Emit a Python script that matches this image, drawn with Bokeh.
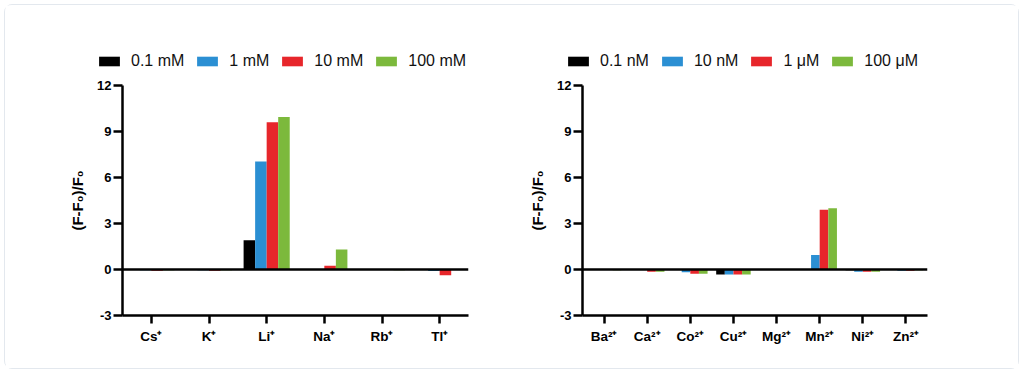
from bokeh.plotting import figure
from bokeh.models import FactorRange, Range1d, Span, Legend, LegendItem, ColumnDataSource, FixedTicker
from bokeh.transform import dodge
from bokeh.layouts import row, column
from bokeh.embed import file_html
from bokeh.resources import INLINE

# ---- data ----
mono_cats = ["Cs⁺", "K⁺", "Li⁺", "Na⁺", "Rb⁺", "Tl⁺"]
mono_labels = ["0.1 mM", "1 mM", "10 mM", "100 mM"]
mono_01 = [0.0, 0.0, 1.9, 0.0, 0.0, 0.0]
mono_1 = [-0.05, -0.05, 7.05, 0.0, 0.0, -0.1]
mono_10 = [-0.08, -0.08, 9.6, 0.25, 0.0, -0.38]
mono_100 = [-0.05, -0.05, 9.95, 1.3, -0.05, 0.0]

di_cats = ["Ba²⁺", "Ca²⁺", "Co²⁺", "Cu²⁺", "Mg²⁺", "Mn²⁺", "Ni²⁺", "Zn²⁺"]
di_labels = ["0.1 nM", "10 nM", "1 μM", "100 μM"]
di_01 = [0.0, 0.0, 0.0, -0.33, 0.0, 0.0, -0.05, 0.0]
di_10n = [0.0, -0.03, -0.18, -0.32, 0.0, 0.95, -0.15, -0.08]
di_1u = [0.0, -0.15, -0.28, -0.32, 0.0, 3.9, -0.15, -0.08]
di_100u = [-0.05, -0.15, -0.28, -0.32, 0.0, 4.0, -0.15, -0.05]

y_ticks = [-3, 0, 3, 6, 9, 12]
y_tick_labels = {-3: "-3", 0: "0", 3: "3", 6: "6", 9: "9", 12: "12"}
colors = ["#000000", "#2b8fd3", "#e7262b", "#7cb93c"]
offsets = [-0.3, -0.1, 0.1, 0.3]

FONT = "Liberation Sans"
LEG_H = 70


def make_legend(labels, width, leg_x):
    p = figure(width=width, height=LEG_H, min_border=0, frame_align=False,
               x_range=Range1d(0, 1), y_range=Range1d(0, 1),
               x_axis_location=None, y_axis_location=None,
               output_backend="svg", toolbar_location=None,
               background_fill_color="white", border_fill_color="white")
    p.outline_line_color = None
    p.xgrid.visible = False
    p.ygrid.visible = False
    items = []
    for i in range(4):
        # keys for the legend only: the bar sits outside the visible range
        r = p.vbar(x=[0.5], top=[-2], bottom=[-3], width=0.2,
                   fill_color=colors[i], line_color=None)
        items.append(LegendItem(label=labels[i], renderers=[r]))
    leg = Legend(items=items, orientation="horizontal", location=(leg_x, 5),
                 glyph_width=26, glyph_height=12, label_standoff=9, spacing=10,
                 padding=0, margin=0, border_line_color=None, background_fill_alpha=0,
                 label_text_font=FONT, label_text_font_size="16px", label_text_color="#111111")
    p.add_layout(leg, "center")
    return p


def make_chart(cats, series, frame_w, bl, br):
    p = figure(x_range=FactorRange(factors=cats), y_range=Range1d(-3, 12),
               frame_width=frame_w, frame_height=230, frame_align=False,
               min_border_left=bl, min_border_right=br,
               min_border_top=10, min_border_bottom=53,
               output_backend="svg", toolbar_location=None,
               background_fill_color="white", border_fill_color="white")
    p.outline_line_color = None
    p.xgrid.visible = False
    p.ygrid.visible = False

    data = {"cat": cats}
    for i, s in enumerate(series):
        data[f"s{i}"] = s
    src = ColumnDataSource(data)

    for i in range(4):
        p.vbar(x=dodge("cat", offsets[i], range=p.x_range), top=f"s{i}", bottom=0,
               width=0.2, source=src, fill_color=colors[i], line_color=None)

    p.add_layout(Span(location=0, dimension="width", line_color="black", line_width=2.5))

    ya = p.yaxis[0]
    ya.ticker = FixedTicker(ticks=y_ticks)
    ya.major_label_overrides = y_tick_labels
    ya.minor_tick_line_color = None
    ya.axis_line_width = 2.5
    ya.major_tick_line_width = 2.5
    ya.major_tick_out = 9
    ya.major_tick_in = 0
    ya.major_label_standoff = 2
    ya.major_label_text_font = FONT
    ya.major_label_text_font_style = "bold"
    ya.major_label_text_font_size = "13px"
    ya.major_label_text_color = "black"
    ya.axis_label = "(F-F₀)/F₀"
    ya.axis_label_text_font = FONT
    ya.axis_label_text_font_style = "bold"
    ya.axis_label_text_font_size = "15px"
    ya.axis_label_text_color = "black"
    ya.axis_label_standoff = 8

    xa = p.xaxis[0]
    xa.axis_line_width = 2.5
    xa.major_tick_line_width = 2.5
    xa.major_tick_out = 8
    xa.major_tick_in = 0
    xa.major_label_standoff = 5
    xa.major_label_text_font = FONT
    xa.major_label_text_font_style = "bold"
    xa.major_label_text_font_size = "13.5px"
    xa.major_label_text_color = "black"
    return p


W1 = 117 + 346 + 44
W2 = 70 + 345 + 91
p1 = make_chart(mono_cats, [mono_01, mono_1, mono_10, mono_100], 346, 117, 44)
p2 = make_chart(di_cats, [di_01, di_10n, di_1u, di_100u], 345, 70, 91)
l1 = make_legend(mono_labels, W1, 91)
l2 = make_legend(di_labels, W2, 53)

layout = row(column(l1, p1), column(l2, p2),
             styles={"margin": "4px 0 0 4px", "border": "1px solid #e3e8ee",
                     "border-radius": "8px"})

open("out.html", "w").write(file_html(layout, INLINE))
